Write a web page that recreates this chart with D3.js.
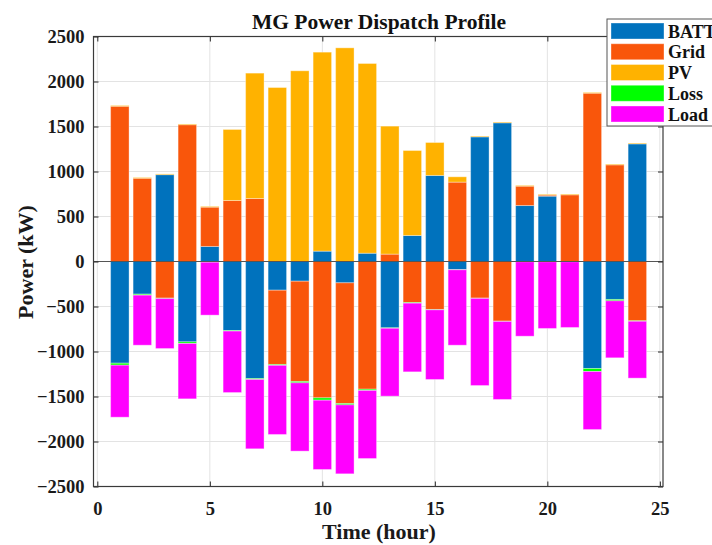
<!DOCTYPE html>
<html>
<head>
<meta charset="utf-8">
<script src="https://cdn.jsdelivr.net/npm/d3@7/dist/d3.min.js"></script>
<style>
  html, body { margin: 0; padding: 0; background: #fff; }
  svg { display: block; font-family: "Liberation Serif", "Times New Roman", serif; font-weight: bold; }
</style>
</head>
<body>
<svg id="chart" width="712" height="545"></svg>
<script>
// Hourly dispatch of the microgrid (kW). Positive = supplied, negative = absorbed.
const hours = [1,2,3,4,5,6,7,8,9,10,11,12,13,14,15,16,17,18,19,20,21,22,23,24];
const batt = [-1130,-363,965,-893,167,-767,-1300,-319,-219,115,-237,92,-737,289,956,-89,1385,1541,622,726,0,-1189,-422,1307];
const grid = [1725,925,-407,1520,437,678,700,-825,-1114,-1515,-1341,-1419,82,-456,-533,882,-407,-663,215,12,741,1870,1074,-659];
const pv   = [8,8,8,8,8,789,1393,1933,2119,2211,2374,2108,1422,944,366,59,8,8,8,8,8,8,8,8];
const loss = [-22,-11,-5,-18,-8,-6,-11,-10,-15,-26,-15,-14,-5,-7,-4,-3,-3,-3,-3,-3,-3,-33,-15,-5];
const load = [-578,-556,-555,-615,-588,-683,-770,-768,-759,-770,-766,-756,-754,-763,-774,-838,-968,-867,-827,-741,-730,-645,-633,-632];

const seriesNames = ["BATT","Grid","PV","Loss","Load"];
const seriesValues = [batt, grid, pv, loss, load];
const seriesColors = ["#0072BD","#F9560B","#FFB200","#00FF00","#FF00FF"];

const yTicks = [-2500,-2000,-1500,-1000,-500,0,500,1000,1500,2000,2500];
const xTicks = [0,5,10,15,20,25];

const svg = d3.select("#chart");
const plot = { left: 93.5, right: 663, top: 36.5, bottom: 486.5 };

const x = d3.scaleLinear().domain([-0.17, 25.14]).range([plot.left, plot.right]);
const y = d3.scaleLinear().domain([-2500, 2500]).range([plot.bottom, plot.top]);
const barW = x(0.82) - x(0);

// grid lines
const gridG = svg.append("g");
gridG.selectAll("line.gy").data(yTicks).join("line")
  .attr("x1", plot.left).attr("x2", plot.right)
  .attr("y1", d => y(d)).attr("y2", d => y(d))
  .attr("stroke", "#e3e3e3").attr("stroke-width", 1);
gridG.selectAll("line.gx").data(xTicks).join("line")
  .attr("y1", plot.top).attr("y2", plot.bottom)
  .attr("x1", d => x(d)).attr("x2", d => x(d))
  .attr("stroke", "#e3e3e3").attr("stroke-width", 1);

// stacked segments: positives stack upward, negatives downward, in series order
const segments = [];
hours.forEach((h, i) => {
  let pos = 0, neg = 0;
  seriesValues.forEach((vals, s) => {
    const v = vals[i];
    if (v >= 0) { segments.push({ h, s, y0: pos, y1: pos + v }); pos += v; }
    else { segments.push({ h, s, y0: neg, y1: neg + v }); neg += v; }
  });
});

svg.append("g").selectAll("rect").data(segments.filter(d => d.y0 !== d.y1)).join("rect")
  .attr("x", d => x(d.h) - barW / 2)
  .attr("width", barW)
  .attr("y", d => y(Math.max(d.y0, d.y1)))
  .attr("height", d => Math.abs(y(d.y0) - y(d.y1)))
  .attr("fill", d => seriesColors[d.s])
  .attr("stroke", "rgba(255,255,255,0.35)")
  .attr("stroke-width", 1);

// baseline
svg.append("line")
  .attr("x1", plot.left).attr("x2", plot.right)
  .attr("y1", y(0)).attr("y2", y(0))
  .attr("stroke", "#555").attr("stroke-width", 1.2);

// axes with inward ticks
const axisStyle = g => {
  g.select(".domain").remove();
  g.selectAll(".tick line").attr("stroke", "#262626");
  g.selectAll(".tick text").attr("fill", "#1a1a1a").style("font-size", "18.5px")
    .style("font-family", "Liberation Serif, serif").style("font-weight", "bold");
};
svg.append("g").attr("transform", `translate(${plot.left},0)`)
  .call(d3.axisLeft(y).tickValues(yTicks).tickSize(-5).tickPadding(9).tickFormat(d3.format("d")))
  .call(axisStyle);
svg.append("g").attr("transform", `translate(${plot.right},0)`)
  .call(d3.axisRight(y).tickValues(yTicks).tickSize(-5).tickFormat(""))
  .call(axisStyle);
svg.append("g").attr("transform", `translate(0,${plot.bottom})`)
  .call(d3.axisBottom(x).tickValues(xTicks).tickSize(-5).tickPadding(15).tickFormat(d3.format("d")))
  .call(axisStyle);
svg.append("g").attr("transform", `translate(0,${plot.top})`)
  .call(d3.axisTop(x).tickValues(xTicks).tickSize(-5).tickFormat(""))
  .call(axisStyle);

// frame
svg.append("rect")
  .attr("x", plot.left).attr("y", plot.top)
  .attr("width", plot.right - plot.left).attr("height", plot.bottom - plot.top)
  .attr("fill", "none").attr("stroke", "#3a3a3a").attr("stroke-width", 1.2);

// titles
svg.append("text").attr("x", 379).attr("y", 29).attr("text-anchor", "middle")
  .style("font-size", "21.5px").attr("fill", "#111").text("MG Power Dispatch Profile");
svg.append("text").attr("x", 379).attr("y", 539).attr("text-anchor", "middle")
  .style("font-size", "22px").attr("fill", "#1a1a1a").text("Time (hour)");
svg.append("text").attr("transform", "translate(33,262) rotate(-90)").attr("text-anchor", "middle")
  .style("font-size", "22px").attr("fill", "#1a1a1a").text("Power (kW)");

// legend
const lg = svg.append("g");
lg.append("rect").attr("x", 607).attr("y", 19).attr("width", 120).attr("height", 107)
  .attr("fill", "#fff").attr("stroke", "#555").attr("stroke-width", 1);
const items = lg.selectAll("g.item").data(seriesNames).join("g")
  .attr("transform", (d, i) => `translate(0,${31 + i * 20.75})`);
items.append("rect").attr("x", 611).attr("y", -8).attr("width", 53).attr("height", 16)
  .attr("fill", (d, i) => seriesColors[i])
  .attr("stroke", "rgba(255,255,255,0.35)");
items.append("text").attr("x", 668).attr("y", 6.5)
  .style("font-size", "18px").attr("fill", "#111").text(d => d);
</script>
</body>
</html>
